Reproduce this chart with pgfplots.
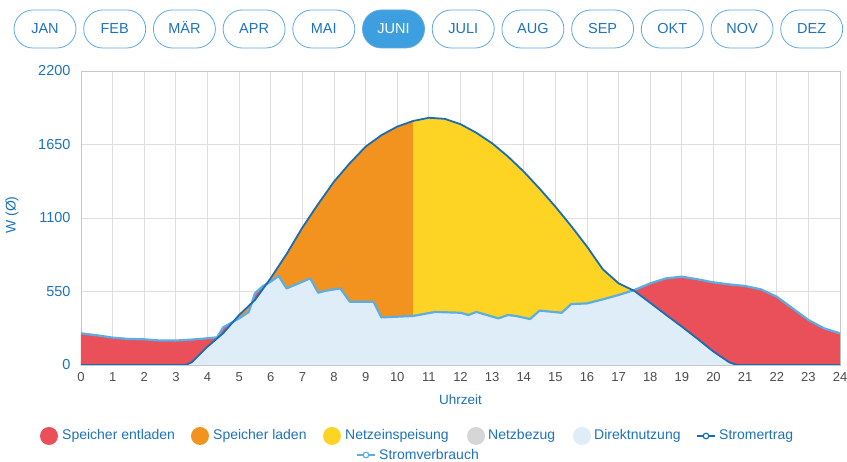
\documentclass[border=0pt]{standalone}
\usepackage{fontspec}
\setmainfont{Liberation Sans}
\usepackage{pgfplots}
\pgfplotsset{compat=1.18}

\definecolor{rot}{HTML}{E9505A}
\definecolor{laden}{HTML}{F3931F}
\definecolor{gelb}{HTML}{FDD424}
\definecolor{grau}{HTML}{D6D6D6}
\definecolor{hellblau}{HTML}{DFEDF8}
\definecolor{dunkelblau}{HTML}{1A6DB3}
\definecolor{linienblau}{HTML}{5BADE3}
\definecolor{textblau}{HTML}{1E72BA}
\definecolor{knopf}{HTML}{3E9FE0}
\definecolor{rahmen}{HTML}{5FA8DE}

\begin{document}
\begin{tikzpicture}[x=1pt,y=1pt]
\path[use as bounding box] (0,0) rectangle (847,462);

% Monatsknoepfe
\foreach \m [count=\i from 0] in {JAN,FEB,MÄR,APR,MAI,JUNI,JULI,AUG,SEP,OKT,NOV,DEZ}{
  \pgfmathsetmacro\cx{45+69.7*\i}
  \ifnum\i=5
    \draw[rahmen, fill=knopf, line width=0.8pt, rounded corners=19pt] (\cx-31,414) rectangle (\cx+31,452);
    \node[white, font=\fontsize{14.5}{14.5}\selectfont, anchor=base, inner sep=0] at (\cx,428) {\m};
  \else
    \draw[rahmen, line width=0.8pt, rounded corners=19pt] (\cx-31,414) rectangle (\cx+31,452);
    \node[textblau, font=\fontsize{14.5}{14.5}\selectfont, anchor=base, inner sep=0] at (\cx,428) {\m};
  \fi
}

\begin{axis}[
  at={(81pt,97pt)}, anchor=south west,
  scale only axis, width=759pt, height=294pt,
  xmin=0, xmax=24, ymin=0, ymax=2200,
  xtick={0,...,24}, ytick={0,550,1100,1650,2200},
  grid=major, grid style={black!13, line width=0.8pt},
  axis line style={black!22, line width=0.8pt},
  major tick style={draw=none},
  /pgf/number format/1000 sep={},
  /pgf/number format/assume math mode=true,
  yticklabel style={textblau, font=\fontsize{14.5}{14.5}\selectfont, xshift=-7pt},
  xticklabel style={black!70, font=\fontsize{13}{13}\selectfont, yshift=-4pt},
  xlabel={Uhrzeit}, ylabel={W (Ø)},
  xlabel style={textblau, font=\fontsize{13.5}{13.5}\selectfont, at={(axis description cs:0.5,-0.119)}, anchor=center},
  ylabel style={textblau, font=\fontsize{14}{14}\selectfont, at={(axis description cs:-0.0909,0.51)}, anchor=center},
]
% Stromverbrauch (rot = Speicher entladen, darunter)
\addplot[fill=rot, draw=none] coordinates {
(0,237)(0.5,222)(1,205)(1.5,195)(2,192)(2.5,183)(3,183)(3.5,190)(4,200)(4.3,207)(4.5,282)(5,349)(5.3,395)(5.5,536)(5.75,590)(6,624)(6.25,666)(6.5,573)(7.25,648)(7.5,541)(7.75,556)(8.2,573)(8.5,474)(9.25,474)(9.5,356)(10.5,367)(11.2,397)(12,391)(12.25,374)(12.5,397)(13.2,349)(13.5,374)(13.75,367)(14.2,344)(14.5,407)(15.2,391)(15.5,456)(16,461)(16.5,491)(17,524)(17.5,561)(18,611)(18.5,648)(19,661)(19.5,641)(20,618)(20.5,603)(21,591)(21.5,566)(22,511)(22.5,424)(23,337)(23.5,274)(24,237)
} \closedcycle;
% Speicher laden
\addplot[fill=laden, draw=none] coordinates {
(0,0)(3.3,0)(3.5,20)(4,137)(4.5,239)(5,374)(5.5,486)(6,650)(6.5,830)(7,1028)(7.5,1205)(8,1372)(8.5,1510)(9,1634)(9.5,1720)(10,1784)(10.5,1826)
} \closedcycle;
% Netzeinspeisung
\addplot[fill=gelb, draw=none] coordinates {
(10.5,1826)(11,1850)(11.5,1842)(12,1802)(12.5,1738)(13,1659)(13.5,1560)(14,1447)(14.5,1320)(15,1185)(15.5,1040)(16,886)(16.5,716)(17,611)(17.5,554)(18,465)(18.5,375)(19,287)(19.5,195)(20,100)(20.5,20)(20.75,0)(24,0)
} \closedcycle;
% Direktnutzung
\addplot[fill=hellblau, draw=none] coordinates {
(0,0)(3.3,0)(3.5,20)(4,137)(4.5,239)(4.82,325)(5,349)(5.3,395)(5.4,465)(5.5,486)(5.75,568)(5.87,605)(6,624)(6.25,666)(6.5,573)(7.25,648)(7.5,541)(7.75,556)(8.2,573)(8.5,474)(9.25,474)(9.5,356)(10.5,367)(11.2,397)(12,391)(12.25,374)(12.5,397)(13.2,349)(13.5,374)(13.75,367)(14.2,344)(14.5,407)(15.2,391)(15.5,456)(16,461)(16.5,491)(17,524)(17.45,557)(17.5,554)(18,465)(18.5,375)(19,287)(19.5,195)(20,100)(20.5,20)(20.75,0)(24,0)
} \closedcycle;
% Stromverbrauch
\addplot[linienblau, line width=2.2pt, line join=round] coordinates {
(0,237)(0.5,222)(1,205)(1.5,195)(2,192)(2.5,183)(3,183)(3.5,190)(4,200)(4.3,207)(4.5,282)(5,349)(5.3,395)(5.5,536)(5.75,590)(6,624)(6.25,666)(6.5,573)(7.25,648)(7.5,541)(7.75,556)(8.2,573)(8.5,474)(9.25,474)(9.5,356)(10.5,367)(11.2,397)(12,391)(12.25,374)(12.5,397)(13.2,349)(13.5,374)(13.75,367)(14.2,344)(14.5,407)(15.2,391)(15.5,456)(16,461)(16.5,491)(17,524)(17.5,561)(18,611)(18.5,648)(19,661)(19.5,641)(20,618)(20.5,603)(21,591)(21.5,566)(22,511)(22.5,424)(23,337)(23.5,274)(24,237)
};
% Stromertrag
\addplot[dunkelblau, line width=1.8pt, line join=round] coordinates {
(0,0)(3.3,0)(3.5,20)(4,137)(4.5,239)(5,374)(5.5,486)(6,650)(6.5,830)(7,1028)(7.5,1205)(8,1372)(8.5,1510)(9,1634)(9.5,1720)(10,1784)(10.5,1826)(11,1850)(11.5,1842)(12,1802)(12.5,1738)(13,1659)(13.5,1560)(14,1447)(14.5,1320)(15,1185)(15.5,1040)(16,886)(16.5,716)(17,611)(17.5,554)(18,465)(18.5,375)(19,287)(19.5,195)(20,100)(20.5,20)(20.75,0)(24,0)
};
\end{axis}

% Legende
\begin{scope}[font=\fontsize{14}{14}\selectfont, text=textblau]
\fill[rot] (49,26) circle (9);
\node[anchor=west, inner sep=0] at (62,26) {Speicher entladen};
\fill[laden] (200,26) circle (9);
\node[anchor=west, inner sep=0] at (213,26) {Speicher laden};
\fill[gelb] (332,26) circle (9);
\node[anchor=west, inner sep=0] at (345,26) {Netzeinspeisung};
\fill[grau] (476,26) circle (9);
\node[anchor=west, inner sep=0] at (488,26) {Netzbezug};
\fill[hellblau] (582,26) circle (9);
\node[anchor=west, inner sep=0] at (594,26) {Direktnutzung};
\draw[dunkelblau, line width=1.2pt] (697,26) -- (715,26);
\draw[dunkelblau, line width=1.2pt, fill=white] (706,26) circle (2.8);
\node[anchor=west, inner sep=0] at (719,26) {Stromertrag};
\draw[linienblau, line width=1.2pt] (357,7) -- (375,7);
\draw[linienblau, line width=1.2pt, fill=white] (366,7) circle (2.8);
\node[anchor=west, inner sep=0] at (379,7) {Stromverbrauch};
\end{scope}
\end{tikzpicture}
\end{document}
